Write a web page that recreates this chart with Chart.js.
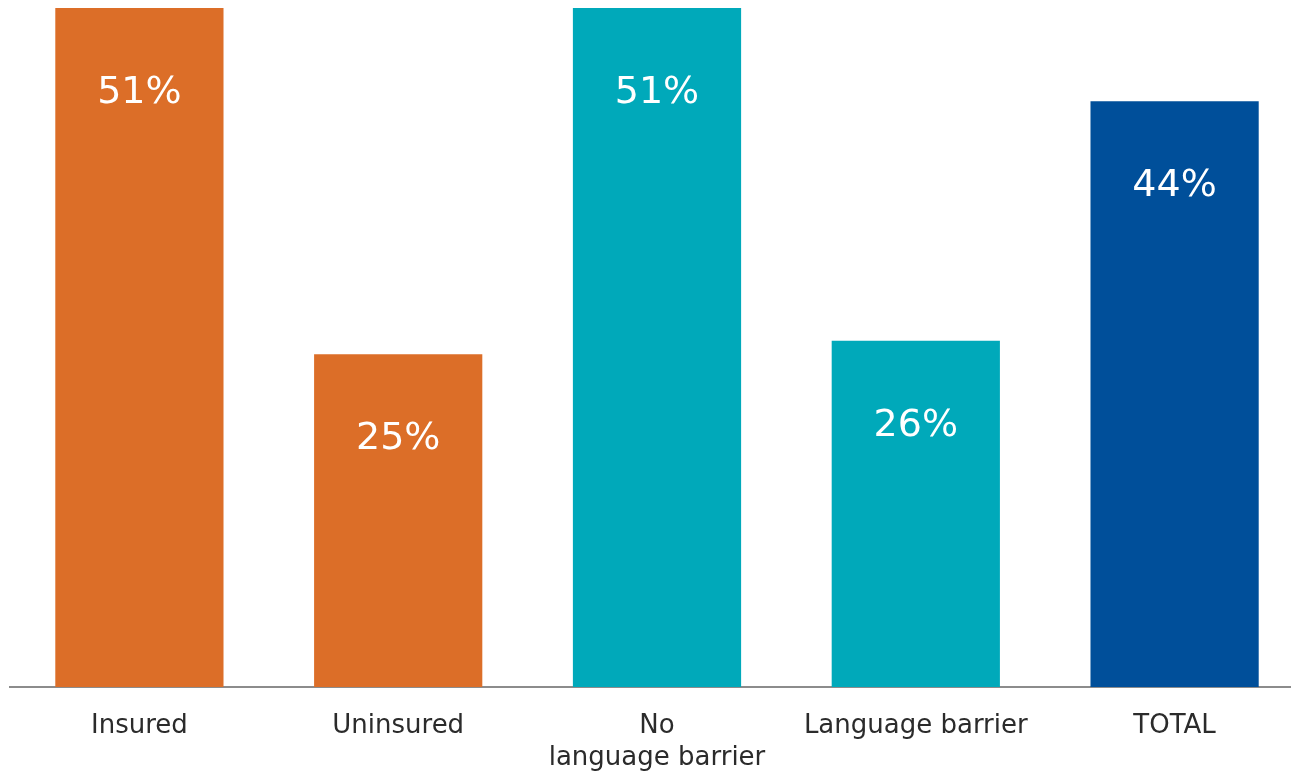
<!DOCTYPE html>
<html>
<head>
<meta charset="utf-8">
<script src="https://cdn.jsdelivr.net/npm/chart.js@4"></script>
<style>
  html, body { margin: 0; padding: 0; background: #fff; overflow: hidden; }
  #wrap { width: 1291px; height: 773px; overflow: hidden; }
  canvas { display: block; }
</style>
</head>
<body>
<div id="wrap">
  <canvas id="barChart" width="1304" height="773"></canvas>
</div>
<script>
// chart data
const categories = ['Insured', 'Uninsured', ['No', 'language barrier'], 'Language barrier', 'TOTAL'];
const shares = [51, 25, 51, 26, 44];
const barColors = ['#dc6e28', '#dc6e28', '#00a9ba', '#00a9ba', '#004f9a'];

// draws the percent labels inside the bars
const valueLabels = {
  id: 'valueLabels',
  afterDatasetsDraw(chart) {
    const ctx = chart.ctx;
    const meta = chart.getDatasetMeta(0);
    ctx.save();
    ctx.fillStyle = '#ffffff';
    ctx.font = '38px "DejaVu Sans"';
    ctx.textAlign = 'center';
    ctx.textBaseline = 'middle';
    meta.data.forEach((bar, i) => {
      ctx.fillText(shares[i] + '%', bar.x, bar.y + 85);
    });
    ctx.restore();
  }
};

const ctx = document.getElementById('barChart').getContext('2d');
const chart = new Chart(ctx, {
  type: 'bar',
  data: {
    labels: categories,
    datasets: [{
      data: shares,
      backgroundColor: barColors,
      borderWidth: 0,
      barPercentage: 0.65,
      categoryPercentage: 1
    }]
  },
  options: {
    responsive: false,
    animation: false,
    layout: { padding: { left: 10, right: 0, top: 0, bottom: 0 } },
    plugins: {
      legend: { display: false },
      tooltip: { enabled: false }
    },
    scales: {
      x: {
        grid: { display: false, drawTicks: false },
        border: { display: true, color: '#8c8c8c', width: 2 },
        ticks: {
          color: '#2b2b2b',
          font: { family: 'DejaVu Sans', size: 26 },
          padding: 24,
          maxRotation: 0,
          autoSkip: false
        },
        afterFit: (scale) => { scale.height = 86; }
      },
      y: {
        display: false,
        min: 0,
        max: 51.6
      }
    }
  },
  plugins: [valueLabels]
});
</script>
</body>
</html>
